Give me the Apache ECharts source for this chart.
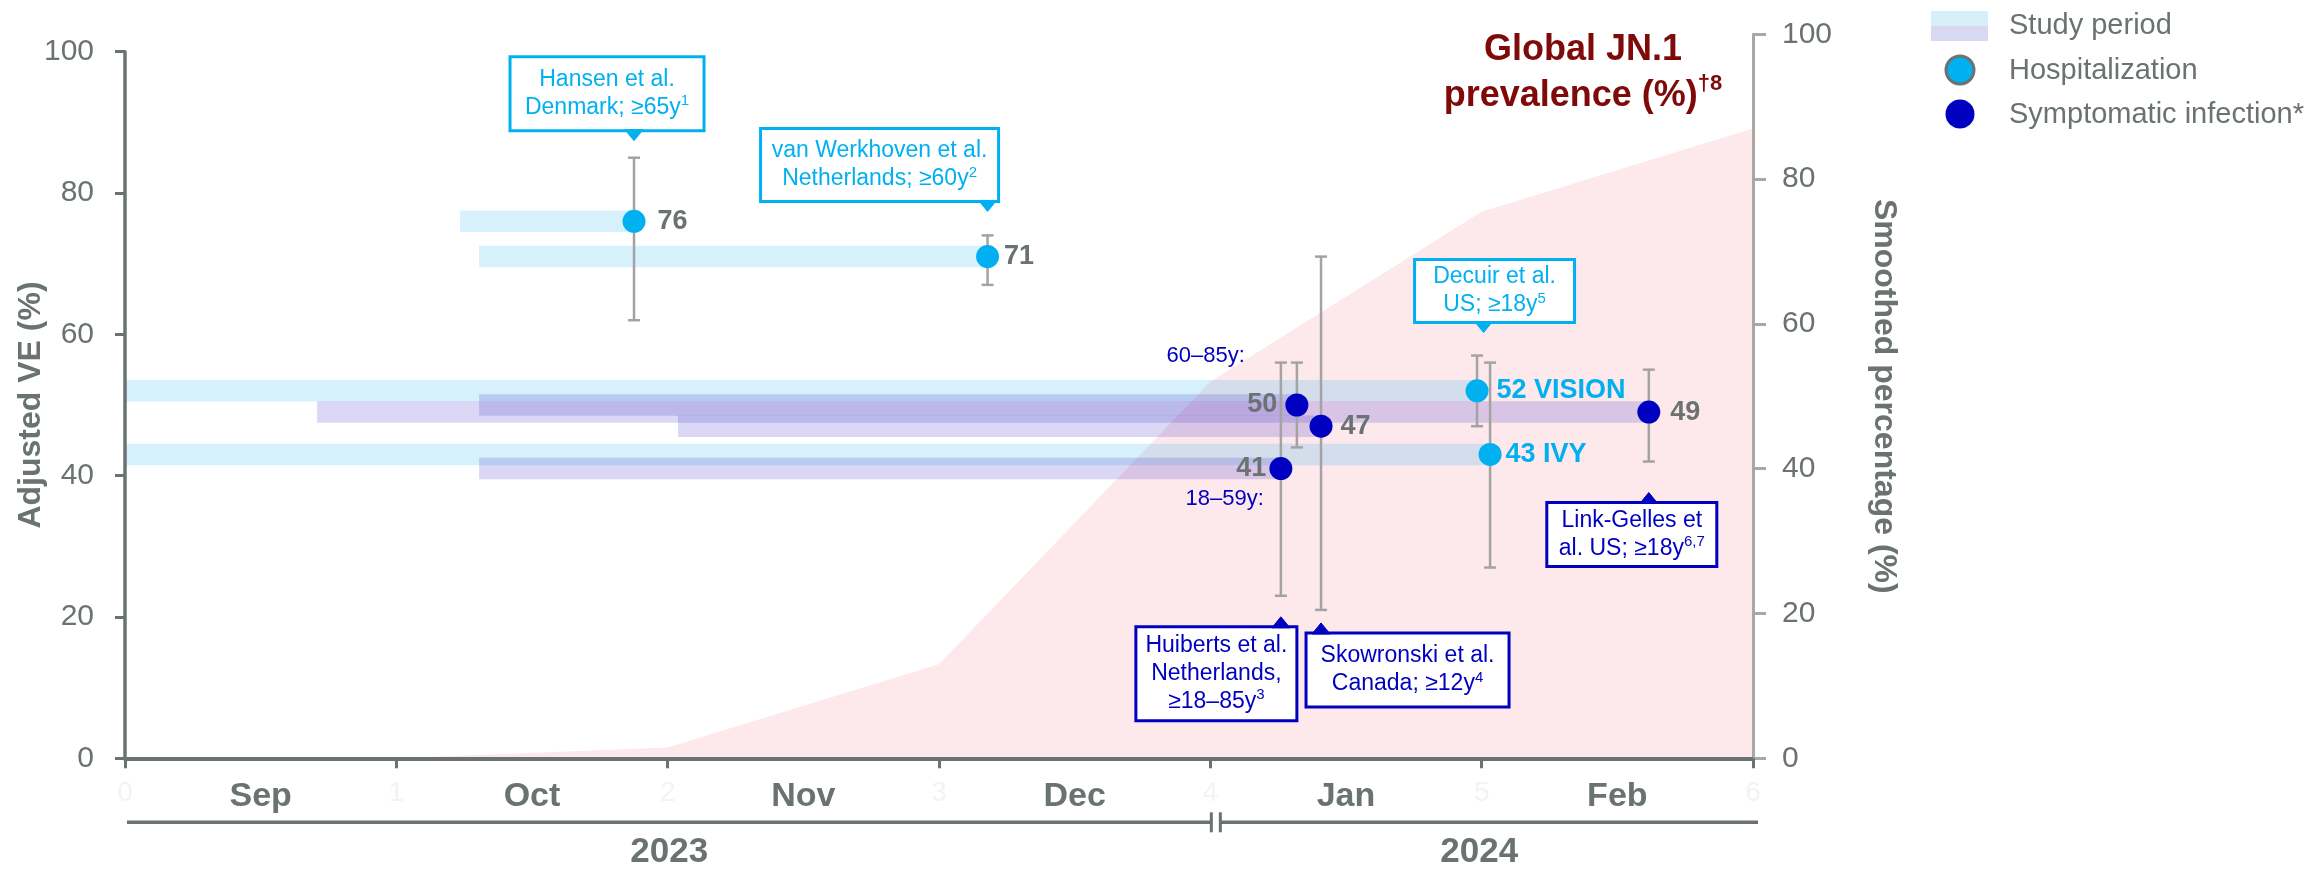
<!DOCTYPE html>
<html>
<head>
<meta charset="utf-8">
<title>JN.1-era vaccine effectiveness</title>
<script src="https://cdn.jsdelivr.net/npm/echarts@6/dist/echarts.min.js"></script>
<style>
  html, body { margin: 0; padding: 0; background: #ffffff; }
  #chart { width: 2310px; height: 870px; }
</style>
</head>
<body>
<div id="chart"></div>
<script>
// ---- Time axis: 0 = 1 Sep 2023 ... 6 = 1 Mar 2024 (one unit per month) ----
const monthLabels = ['Sep', 'Oct', 'Nov', 'Dec', 'Jan', 'Feb'];
const yearLabels = ['2023', '2024'];
const yearFrom = [0, 4];
const yearTo = [4, 6];

// ---- Global JN.1 prevalence (smoothed %), at the start of each month ----
const prevalenceMonth = [0, 1, 2, 3, 4, 5, 6];
const prevalence = [0, 0, 1.5, 13, 52, 75.5, 87];

// ---- Studies: study period (start/end in months) and adjusted VE with 95% CI ----
const studyName = ['Hansen', 'van Werkhoven', 'Decuir VISION', 'Decuir IVY',
                   'Huiberts 60–85y', 'Huiberts 18–59y', 'Skowronski', 'Link-Gelles'];
const studyOutcome = ['Hospitalization', 'Hospitalization', 'Hospitalization', 'Hospitalization',
                      'Symptomatic infection*', 'Symptomatic infection*', 'Symptomatic infection*', 'Symptomatic infection*'];
const studyStart = [1.235, 1.305, 0, 0, 1.305, 1.305, 2.038, 0.708];
const studyEnd = [1.876, 3.179, 4.983, 5.031, 4.319, 4.260, 4.408, 5.616];
const veEstimate = [76, 71, 52, 43, 50, 41, 47, 49];
const ciLower = [62, 67, 47, 27, 44, 23, 21, 42];
const ciUpper = [85, 74, 57, 56, 56, 56, 71, 55];
const estimateSuffix = ['', '', ' VISION', ' IVY', '', '', '', ''];

// ---- Callouts: which studies each one points at, and its text ----
const noteStudies = [[0], [1], [2, 3], [5], [6], [7]];
const noteText = [
  'Hansen et al.\nDenmark; ≥65y{s|1}',
  'van Werkhoven et al.\nNetherlands; ≥60y{s|2}',
  'Decuir et al.\nUS; ≥18y{s|5}',
  'Huiberts et al.\nNetherlands,\n≥18–85y{s|3}',
  'Skowronski et al.\nCanada; ≥12y{s|4}',
  'Link-Gelles et\nal. US; ≥18y{s|6,7}'
];
const ageGroupStudy = [4, 5];
const ageGroupText = ['60–85y:', '18–59y:'];

const outcomeNames = ['Hospitalization', 'Symptomatic infection*'];

// ---- Styling ----
const FONT = '"Liberation Sans", Arial, Helvetica, sans-serif';
const GRAY = '#6a7272';
const LIGHT_AXIS = '#a8a8a8';
const CYAN = '#00b0f0';
const NAVY = '#0000c0';
const PINK = '#fde8ec';
const TITLE_RED = '#7f0a0a';
const outcomeColor = { 'Hospitalization': CYAN, 'Symptomatic infection*': NAVY };
const bandColor = { 'Hospitalization': 'rgba(0,168,232,0.16)', 'Symptomatic infection*': 'rgba(50,40,200,0.18)' };
const bandSolid = { 'Hospitalization': '#d6eff9', 'Symptomatic infection*': '#d9d8f3' };

// value label placement per study
const labelSide = ['right', 'right', 'right', 'right', 'left', 'left', 'right', 'right'];
const labelGap = [12, 5, 8, 4, 8, 3, 8, 10];

// callout box layout (pixels): side of the CI whisker, gap to pointer tip, box size, box offset
const noteLayout = [
  { side: 'top', gap: 17, w: 194, h: 74, dx: -124 },
  { side: 'top', gap: 24, w: 238, h: 73, dx: -227 },
  { side: 'top', gap: 23, w: 160, h: 63, dx: -69 },
  { side: 'bottom', gap: 21, w: 161, h: 94, dx: -145 },
  { side: 'bottom', gap: 13, w: 203, h: 74, dx: -15 },
  { side: 'bottom', gap: 31, w: 170, h: 64, dx: -102 }
];
const ageLayout = [
  { dx: -52, dy: -49 },
  { dx: -17, dy: 30 }
];

const chart = echarts.init(document.getElementById('chart'), null, { renderer: 'canvas' });

function pointSeries(outcome) {
  const idx = studyName.map((_, i) => i).filter(i => studyOutcome[i] === outcome);
  return {
    type: 'scatter',
    name: outcome,
    xAxisIndex: 0,
    yAxisIndex: 0,
    z: 5,
    symbol: 'circle',
    symbolSize: 23,
    itemStyle: { color: outcomeColor[outcome], opacity: 1 },
    label: { show: true, fontFamily: FONT, fontSize: 27, fontWeight: 'bold' },
    emphasis: { disabled: true },
    data: idx.map(i => ({
      name: studyName[i],
      value: [studyEnd[i], veEstimate[i]],
      label: {
        position: labelSide[i],
        distance: labelGap[i],
        formatter: String(veEstimate[i]) + estimateSuffix[i],
        color: estimateSuffix[i] ? CYAN : GRAY
      }
    }))
  };
}

const option = {
  animation: false,
  backgroundColor: '#ffffff',
  textStyle: { fontFamily: FONT },
  grid: [
    { left: 125, right: 557, top: 51.7, bottom: 111.7, containLabel: false, outerBoundsMode: 'none' },
    { left: 125, right: 557, top: 34.3, bottom: 111.7, containLabel: false, outerBoundsMode: 'none' }
  ],
  xAxis: [
    {
      type: 'value', gridIndex: 0, position: 'bottom', min: 0, max: 6, interval: 1,
      axisLine: { show: false, onZero: false }, axisTick: { show: false }, splitLine: { show: false },
      axisLabel: { color: '#f3f3f3', fontSize: 28, margin: 21, fontFamily: FONT }
    },
    {
      type: 'category', gridIndex: 0, position: 'bottom', data: monthLabels, boundaryGap: true, z: 10,
      axisLine: { show: true, onZero: false, lineStyle: { color: GRAY, width: 4 } },
      axisTick: { show: true, length: 10, alignWithLabel: false, lineStyle: { color: GRAY, width: 3 } },
      axisLabel: { color: GRAY, fontSize: 34, fontWeight: 'bold', margin: 21, fontFamily: FONT, interval: 0 },
      splitLine: { show: false }
    },
    {
      type: 'value', gridIndex: 1, min: 0, max: 6, interval: 1, show: false,
      axisLine: { onZero: false }
    }
  ],
  yAxis: [
    {
      type: 'value', gridIndex: 0, position: 'left', min: 0, max: 100, interval: 20, z: 10,
      name: 'Adjusted VE (%)', nameLocation: 'middle', nameGap: 78, nameRotate: 90, nameMoveOverlap: false,
      nameTextStyle: { color: GRAY, fontSize: 32, fontWeight: 'bold', fontFamily: FONT },
      axisLine: { show: true, onZero: false, lineStyle: { color: GRAY, width: 3.5 } },
      axisTick: { show: true, length: 10, lineStyle: { color: GRAY, width: 3 } },
      axisLabel: { color: GRAY, fontSize: 30, margin: 31, fontFamily: FONT },
      splitLine: { show: false }
    },
    {
      type: 'value', gridIndex: 1, position: 'right', min: 0, max: 100, interval: 20, z: 10,
      name: 'Smoothed percentage (%)', nameLocation: 'middle', nameGap: 115, nameRotate: -90, nameMoveOverlap: false,
      nameTextStyle: { color: GRAY, fontSize: 32, fontWeight: 'bold', fontFamily: FONT },
      axisLine: { show: true, onZero: false, lineStyle: { color: LIGHT_AXIS, width: 3 } },
      axisTick: { show: true, length: 13, lineStyle: { color: LIGHT_AXIS, width: 3 } },
      axisLabel: { color: GRAY, fontSize: 30, margin: 29, fontFamily: FONT },
      splitLine: { show: false }
    }
  ],
  graphic: [
    // prevalence heading
    {
      type: 'text', x: 1583, y: 27, z: 20,
      style: {
        text: 'Global JN.1\nprevalence (%){s|†8}',
        align: 'center', verticalAlign: 'top',
        fill: TITLE_RED, fontFamily: FONT, fontSize: 36, fontWeight: 'bold', lineHeight: 46,
        rich: { s: { fontFamily: FONT, fontSize: 22, fontWeight: 'bold', fill: TITLE_RED, verticalAlign: 'top', lineHeight: 26 } }
      }
    },
    // key
    {
      type: 'group', z: 20,
      children: [
        { type: 'rect', shape: { x: 1931, y: 11, width: 57, height: 15 }, style: { fill: bandSolid['Hospitalization'] } },
        { type: 'rect', shape: { x: 1931, y: 26, width: 57, height: 15 }, style: { fill: bandSolid['Symptomatic infection*'] } },
        { type: 'text', x: 2009, y: 26, style: { text: 'Study period', fill: GRAY, fontFamily: FONT, fontSize: 29, verticalAlign: 'middle', align: 'left' } },
        { type: 'circle', shape: { cx: 1960, cy: 70, r: 14 }, style: { fill: outcomeColor[outcomeNames[0]], stroke: GRAY, lineWidth: 3 } },
        { type: 'text', x: 2009, y: 71, style: { text: outcomeNames[0], fill: GRAY, fontFamily: FONT, fontSize: 29, verticalAlign: 'middle', align: 'left' } },
        { type: 'circle', shape: { cx: 1960, cy: 114, r: 14.5 }, style: { fill: outcomeColor[outcomeNames[1]] } },
        { type: 'text', x: 2009, y: 115, style: { text: outcomeNames[1], fill: GRAY, fontFamily: FONT, fontSize: 29, verticalAlign: 'middle', align: 'left' } }
      ]
    }
  ],
  series: [
    // JN.1 prevalence area (right axis)
    {
      type: 'line', name: 'Global JN.1 prevalence', xAxisIndex: 2, yAxisIndex: 1, z: 1,
      data: prevalenceMonth.map((m, i) => [m, prevalence[i]]),
      symbol: 'none', silent: true,
      lineStyle: { width: 0 },
      areaStyle: { color: PINK, opacity: 1 }
    },
    // study periods
    {
      type: 'custom', name: 'Study period', xAxisIndex: 0, yAxisIndex: 0, z: 3, silent: true,
      data: studyStart.map((s, i) => [s, veEstimate[i], studyEnd[i], i]),
      renderItem(params, api) {
        const i = api.value(3);
        const a = api.coord([api.value(0), api.value(1)]);
        const b = api.coord([api.value(2), api.value(1)]);
        const h = 21.5;
        return {
          type: 'rect',
          shape: { x: a[0], y: a[1] - h / 2, width: b[0] - a[0], height: h },
          style: { fill: bandColor[studyOutcome[i]] }
        };
      }
    },
    // 95% confidence intervals
    {
      type: 'custom', name: '95% CI', xAxisIndex: 0, yAxisIndex: 0, z: 4, silent: true,
      data: studyEnd.map((x, i) => [x, ciLower[i], ciUpper[i]]),
      renderItem(params, api) {
        const x = api.value(0);
        const lo = api.coord([x, api.value(1)]);
        const hi = api.coord([x, api.value(2)]);
        const cap = 6;
        const st = { stroke: '#a3a3a3', lineWidth: 2.5 };
        return {
          type: 'group',
          children: [
            { type: 'line', shape: { x1: lo[0], y1: lo[1], x2: hi[0], y2: hi[1] }, style: st },
            { type: 'line', shape: { x1: lo[0] - cap, y1: lo[1], x2: lo[0] + cap, y2: lo[1] }, style: st },
            { type: 'line', shape: { x1: hi[0] - cap, y1: hi[1], x2: hi[0] + cap, y2: hi[1] }, style: st }
          ]
        };
      }
    },
    pointSeries(outcomeNames[0]),
    pointSeries(outcomeNames[1]),
    // study callouts
    {
      type: 'custom', name: 'Callouts', xAxisIndex: 0, yAxisIndex: 0, z: 6, silent: true, clip: false,
      data: noteStudies.map((ids, k) => [ids.reduce((s, i) => s + studyEnd[i], 0) / ids.length, veEstimate[ids[0]], k]),
      renderItem(params, api) {
        const k = api.value(2);
        const L = noteLayout[k];
        const ids = noteStudies[k];
        const edge = L.side === 'top'
          ? Math.max.apply(null, ids.map(i => ciUpper[i]))
          : Math.min.apply(null, ids.map(i => ciLower[i]));
        const e = api.coord([api.value(0), edge]);
        const tipX = e[0];
        const tipY = L.side === 'top' ? e[1] - L.gap : e[1] + L.gap;
        const ph = 10;
        const boxY = L.side === 'top' ? tipY - ph - L.h : tipY + ph;
        const boxX = tipX + L.dx;
        const color = outcomeColor[studyOutcome[ids[0]]];
        const baseY = L.side === 'top' ? tipY - ph - 1 : tipY + ph + 1;
        const ptr = [[tipX, tipY], [tipX + 9, baseY], [tipX - 9, baseY]];
        return {
          type: 'group',
          children: [
            { type: 'rect', shape: { x: boxX, y: boxY, width: L.w, height: L.h }, style: { fill: '#ffffff', stroke: color, lineWidth: 3 } },
            { type: 'polygon', shape: { points: ptr }, style: { fill: color, stroke: color, lineWidth: 1, lineJoin: 'round' } },
            {
              type: 'text',
              style: {
                x: boxX + L.w / 2, y: boxY + L.h / 2, text: noteText[k],
                align: 'center', verticalAlign: 'middle',
                fill: color, fontFamily: FONT, fontSize: 23, lineHeight: 28,
                rich: { s: { fontFamily: FONT, fontSize: 15, fill: color, verticalAlign: 'top', lineHeight: 16 } }
              }
            }
          ]
        };
      }
    },
    // age-group tags next to the Huiberts estimates
    {
      type: 'custom', name: 'Age groups', xAxisIndex: 0, yAxisIndex: 0, z: 6, silent: true, clip: false,
      data: ageGroupStudy.map((i, k) => [studyEnd[i], veEstimate[i], k]),
      renderItem(params, api) {
        const k = api.value(2);
        const p = api.coord([api.value(0), api.value(1)]);
        return {
          type: 'text',
          style: {
            x: p[0] + ageLayout[k].dx, y: p[1] + ageLayout[k].dy, text: ageGroupText[k],
            align: 'right', verticalAlign: 'middle', fill: NAVY, fontFamily: FONT, fontSize: 22
          }
        };
      }
    },
    // calendar-year row under the month labels
    {
      type: 'custom', name: 'Years', xAxisIndex: 0, yAxisIndex: 0, z: 6, silent: true, clip: false,
      data: yearFrom.map((f, i) => [f, 0, yearTo[i], i]),
      renderItem(params, api) {
        const i = api.value(3);
        const a = api.coord([api.value(0), 0]);
        const b = api.coord([api.value(2), 0]);
        const y = a[1] + 64;
        const last = yearLabels.length - 1;
        const x0 = i > 0 ? a[0] + 10 : a[0] + 2;
        const x1 = i < last ? b[0] + 1 : b[0] + 5;
        const st = { stroke: GRAY, lineWidth: 3.5 };
        const children = [
          { type: 'line', shape: { x1: x0, y1: y, x2: x1, y2: y }, style: st },
          {
            type: 'text',
            style: {
              x: (x0 + x1) / 2 - (i > 0 ? 10 : 0), y: y + 30, text: yearLabels[i], align: 'center', verticalAlign: 'middle',
              fill: GRAY, fontFamily: FONT, fontSize: 35, fontWeight: 'bold'
            }
          }
        ];
        if (i > 0) children.push({ type: 'line', shape: { x1: x0, y1: y - 10, x2: x0, y2: y + 10 }, style: { stroke: GRAY, lineWidth: 3 } });
        if (i < last) children.push({ type: 'line', shape: { x1: x1, y1: y - 10, x2: x1, y2: y + 10 }, style: { stroke: GRAY, lineWidth: 3 } });
        return { type: 'group', children };
      }
    }
  ]
};

chart.setOption(option);
</script>
</body>
</html>
